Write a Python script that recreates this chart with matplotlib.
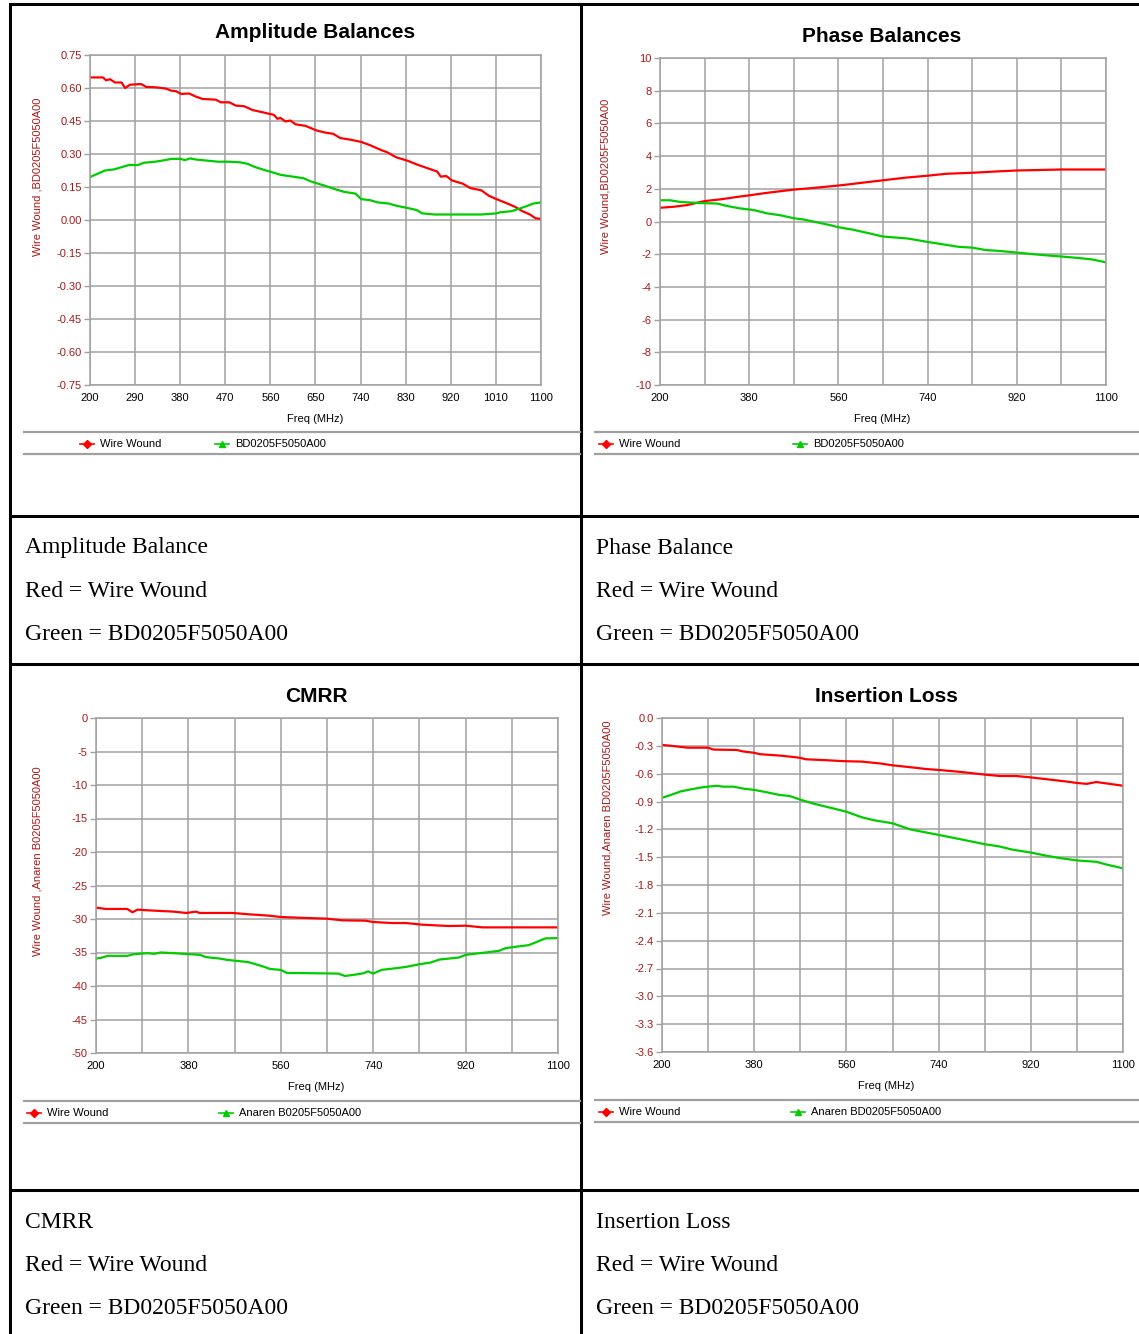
import matplotlib
matplotlib.use('Agg')
import matplotlib.pyplot as plt
from matplotlib.lines import Line2D

# --- SETTINGS ---
W, H = 1139, 1334
RED = '#ff0000'
GREEN = '#00cc00'
GRID = '#a0a0a0'
TICK_RED = '#a81818'

plt.rcParams['font.family'] = ['Liberation Sans', 'DejaVu Sans']

# --- Amplitude balance (dB) ---
amp_ww_f = [200, 226, 232, 240, 250, 263, 270, 280, 302, 312, 332, 352, 362, 372, 382, 398, 412, 425,
            451, 461, 478, 491, 508, 524, 544, 557, 567, 574, 580, 590, 600, 610, 630, 652, 670, 685,
            700, 720, 741, 759, 781, 793, 811, 833, 855, 878, 893, 900, 911, 922, 944, 959, 981, 996,
            1011, 1033, 1048, 1063, 1078, 1089, 1100]
amp_ww = [0.648, 0.648, 0.635, 0.640, 0.625, 0.625, 0.600, 0.615, 0.618, 0.605, 0.603, 0.597, 0.588,
          0.585, 0.573, 0.575, 0.560, 0.550, 0.547, 0.535, 0.535, 0.520, 0.517, 0.500, 0.490, 0.483,
          0.478, 0.460, 0.464, 0.448, 0.452, 0.435, 0.428, 0.407, 0.397, 0.392, 0.372, 0.365, 0.355,
          0.340, 0.318, 0.308, 0.285, 0.270, 0.250, 0.232, 0.220, 0.197, 0.200, 0.180, 0.165, 0.145,
          0.135, 0.110, 0.095, 0.075, 0.060, 0.040, 0.025, 0.008, 0.005]
amp_bd_f = [200, 215, 230, 248, 263, 278, 296, 307, 330, 344, 363, 381, 389, 400, 411, 433, 456, 478,
            500, 515, 530, 544, 559, 581, 611, 626, 641, 655, 670, 689, 707, 730, 741, 759, 774, 796,
            811, 833, 852, 863, 889, 922, 981, 1011, 1018, 1041, 1055, 1070, 1085, 1100]
amp_bd = [0.195, 0.210, 0.225, 0.230, 0.240, 0.250, 0.250, 0.260, 0.265, 0.270, 0.278, 0.278, 0.272,
          0.280, 0.275, 0.270, 0.265, 0.265, 0.262, 0.255, 0.240, 0.230, 0.220, 0.205, 0.195, 0.190,
          0.175, 0.165, 0.155, 0.140, 0.128, 0.120, 0.095, 0.090, 0.080, 0.075, 0.065, 0.055, 0.045,
          0.030, 0.025, 0.025, 0.025, 0.030, 0.035, 0.040, 0.050, 0.062, 0.075, 0.080]

# --- Phase balance (deg) ---
ph_ww_f = [200, 227, 254, 290, 321, 355, 380, 415, 442, 470, 509, 560, 589, 616, 650, 695, 740, 778,
           830, 878, 920, 980, 1010, 1100]
ph_ww = [0.84, 0.90, 1.00, 1.25, 1.35, 1.50, 1.60, 1.75, 1.85, 1.95, 2.05, 2.20, 2.30, 2.40, 2.52,
         2.68, 2.80, 2.92, 2.98, 3.06, 3.12, 3.16, 3.18, 3.18]
ph_bd_f = [200, 220, 240, 267, 290, 315, 335, 362, 389, 416, 443, 470, 490, 517, 543, 560, 589, 616,
           650, 700, 740, 778, 803, 830, 858, 885, 920, 953, 992, 1010, 1047, 1074, 1100]
ph_bd = [1.30, 1.30, 1.20, 1.15, 1.12, 1.10, 0.95, 0.80, 0.70, 0.50, 0.38, 0.20, 0.12, -0.05, -0.22,
         -0.35, -0.50, -0.68, -0.92, -1.04, -1.25, -1.43, -1.55, -1.60, -1.75, -1.80, -1.90, -2.00,
         -2.10, -2.14, -2.24, -2.33, -2.50]

# --- CMRR (dB) ---
cm_ww_f = [200, 219, 261, 271, 281, 300, 351, 376, 395, 402, 466, 498, 537, 560, 610, 650, 680, 725,
           740, 777, 804, 836, 888, 920, 953, 1010, 1100]
cm_ww = [-28.3, -28.5, -28.5, -29.0, -28.6, -28.7, -28.9, -29.1, -28.9, -29.1, -29.1, -29.3, -29.5,
         -29.7, -29.85, -29.95, -30.2, -30.25, -30.45, -30.6, -30.6, -30.85, -31.05, -31.0, -31.25,
         -31.25, -31.25]
cm_bd_f = [200, 210, 222, 261, 274, 300, 313, 326, 351, 402, 415, 441, 455, 493, 500, 526, 539, 560,
           572, 630, 672, 685, 701, 721, 730, 740, 756, 778, 804, 830, 852, 869, 907, 920, 959, 985,
           998, 1017, 1043, 1056, 1075, 1100]
cm_bd = [-35.9, -35.8, -35.5, -35.5, -35.25, -35.1, -35.2, -35.0, -35.1, -35.35, -35.7, -35.9, -36.1,
         -36.4, -36.5, -37.1, -37.45, -37.6, -38.05, -38.1, -38.15, -38.5, -38.35, -38.1, -37.8,
         -38.15, -37.6, -37.4, -37.15, -36.75, -36.5, -36.05, -35.75, -35.35, -35.0, -34.75, -34.35,
         -34.15, -33.9, -33.5, -32.9, -32.85]

# --- Insertion loss (dB) ---
il_ww_f = [200, 218, 250, 290, 300, 346, 358, 380, 391, 430, 456, 470, 481, 521, 553, 590, 626, 650,
           684, 716, 740, 781, 830, 859, 891, 920, 951, 990, 1010, 1029, 1048, 1074, 1100]
il_ww = [-0.29, -0.30, -0.32, -0.32, -0.34, -0.345, -0.36, -0.375, -0.39, -0.405, -0.42, -0.43,
         -0.445, -0.455, -0.465, -0.47, -0.49, -0.51, -0.53, -0.55, -0.56, -0.58, -0.61, -0.625,
         -0.625, -0.64, -0.66, -0.685, -0.70, -0.71, -0.69, -0.71, -0.73]
il_bd_f = [200, 217, 237, 256, 275, 290, 306, 319, 339, 358, 380, 404, 430, 449, 470, 494, 527, 560,
           590, 612, 650, 684, 740, 781, 830, 859, 885, 920, 951, 977, 1010, 1048, 1068, 1100]
il_bd = [-0.86, -0.83, -0.79, -0.77, -0.75, -0.74, -0.73, -0.74, -0.74, -0.76, -0.775, -0.80, -0.83,
         -0.84, -0.88, -0.92, -0.965, -1.01, -1.07, -1.10, -1.135, -1.20, -1.26, -1.305, -1.36,
         -1.385, -1.42, -1.45, -1.485, -1.51, -1.535, -1.55, -1.58, -1.62]

# Axis ticks
freq_ticks = list(range(200, 1101, 90))
amp_xlabels = [str(f) for f in freq_ticks]
half_xlabels = [str(f) if (f - 200) % 180 == 0 else '' for f in freq_ticks]
amp_yticks = [0.75 - 0.15 * i for i in range(11)]
ph_yticks = list(range(10, -11, -2))
cm_yticks = list(range(0, -51, -5))
il_yticks = [-0.3 * i for i in range(13)]

fig = plt.figure(figsize=(W / 100, H / 100), dpi=100)

# page layer in pixel coordinates (table rules, captions, legends)
bg = fig.add_axes([0, 0, 1, 1])
bg.set_xlim(0, W)
bg.set_ylim(H, 0)
bg.axis('off')

# table rules
for y in [4, 516, 664, 1190]:
    bg.plot([10, W], [y, y], color='black', lw=2.2, solid_capstyle='butt')
bg.plot([10, 10], [4, H], color='black', lw=2.2)
bg.plot([581, 581], [4, H], color='black', lw=2.2)


def chart(x0, y0, x1, y1, cx, title, ylabel, ylab_x, ylab_y, xlabels, yticks, ylim, yfmt):
    ax = fig.add_axes([x0 / W, 1 - y1 / H, (x1 - x0) / W, (y1 - y0) / H])
    ax.set_xlim(200, 1100)
    ax.set_ylim(*ylim)
    ax.set_xticks(freq_ticks)
    ax.set_xticklabels(xlabels)
    ax.set_yticks(yticks)
    ax.set_yticklabels([yfmt.format(v + 0.0) for v in yticks])
    ax.tick_params(axis='x', length=0, pad=6, labelsize=8, colors='black')
    ax.tick_params(axis='y', length=4, width=1, color=GRID, pad=2, labelsize=8, labelcolor=TICK_RED)
    ax.grid(True, color=GRID, lw=1.1)
    ax.set_axisbelow(True)
    for s in ax.spines.values():
        s.set_color(GRID)
        s.set_linewidth(1.1)
    # title and x label are centred on the chart frame, not on the plot area
    bg.text(cx, y0 - 22, title, ha='center', va='center', fontsize=15, fontweight='bold')
    bg.text(cx, y1 + 34, 'Freq (MHz)', ha='center', va='center', fontsize=8)
    bg.text(ylab_x, ylab_y, ylabel, rotation=90, ha='center', va='center', fontsize=8, color=TICK_RED)
    return ax


def legend_row(x_left, x_right, y_top, entries):
    bg.plot([x_left, x_right], [y_top, y_top], color=GRID, lw=1.6)
    bg.plot([x_left, x_right], [y_top + 22, y_top + 22], color=GRID, lw=1.6)
    yc = y_top + 12
    for x, color, marker, label in entries:
        bg.add_line(Line2D([x, x + 14], [yc, yc], color=color, lw=1.2))
        bg.add_line(Line2D([x + 7], [yc], color=color, marker=marker, markersize=4.5, lw=0))
        bg.text(x + 20, yc, label, ha='left', va='center', fontsize=8)


def caption(x, y, title):
    for i, line in enumerate([title, 'Red = Wire Wound', 'Green = BD0205F5050A00']):
        bg.text(x, y + 43.5 * i, line, ha='left', va='center', fontsize=17,
                family=['Liberation Serif', 'DejaVu Serif'])


# Amplitude Balances
ax = chart(90, 55, 541, 385, 315, 'Amplitude Balances', 'Wire Wound ,BD0205F5050A00', 38, 177,
           amp_xlabels, amp_yticks, (-0.75, 0.75), '{:.2f}')
ax.plot(amp_ww_f, amp_ww, color=RED, lw=1.6)
ax.plot(amp_bd_f, amp_bd, color=GREEN, lw=1.6)
legend_row(24, 580, 432, [(80, RED, 'D', 'Wire Wound'), (215, GREEN, '^', 'BD0205F5050A00')])

# Phase Balances
ax = chart(660, 58, 1106, 385, 882, 'Phase Balances', 'Wire Wound,BD0205F5050A00', 606, 176,
           half_xlabels, ph_yticks, (-10, 10), '{:.0f}')
ax.plot(ph_ww_f, ph_ww, color=RED, lw=1.6)
ax.plot(ph_bd_f, ph_bd, color=GREEN, lw=1.6)
legend_row(595, W, 432, [(599, RED, 'D', 'Wire Wound'), (793, GREEN, '^', 'BD0205F5050A00')])

# CMRR
ax = chart(96, 718, 558, 1053, 316, 'CMRR', 'Wire Wound ,Anaren B0205F5050A00', 38, 861,
           half_xlabels, cm_yticks, (-50, 0), '{:.0f}')
ax.plot(cm_ww_f, cm_ww, color=RED, lw=1.6)
ax.plot(cm_bd_f, cm_bd, color=GREEN, lw=1.6)
legend_row(24, 580, 1101, [(27, RED, 'D', 'Wire Wound'), (219, GREEN, '^', 'Anaren B0205F5050A00')])

# Insertion Loss
ax = chart(662, 718, 1123, 1052, 886, 'Insertion Loss', 'Wire Wound,Anaren BD0205F5050A00', 608, 818,
           half_xlabels, il_yticks, (-3.6, 0.0), '{:.1f}')
ax.plot(il_ww_f, il_ww, color=RED, lw=1.6)
ax.plot(il_bd_f, il_bd, color=GREEN, lw=1.6)
legend_row(595, W, 1100, [(599, RED, 'D', 'Wire Wound'), (791, GREEN, '^', 'Anaren BD0205F5050A00')])

# table captions
caption(25, 548, 'Amplitude Balance')
caption(596, 548, 'Phase Balance')
caption(25, 1222, 'CMRR')
caption(596, 1222, 'Insertion Loss')

plt.savefig('out.png', dpi=100)
plt.close(fig)
